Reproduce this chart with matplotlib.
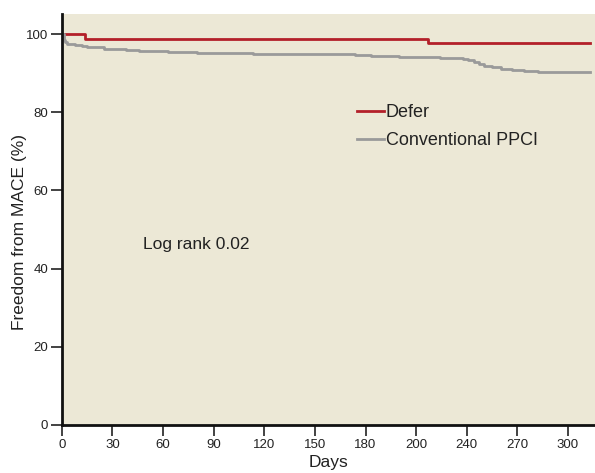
import matplotlib
matplotlib.use("Agg")
import matplotlib.pyplot as plt

# Kaplan-Meier style step data
defer_days = [0, 14, 217, 313]
defer_pct = [100.0, 98.8, 97.7, 97.7]

ppci_days = [0, 1, 2, 3, 5, 8, 12, 15, 20, 25, 31, 38, 46, 55, 63, 71, 80,
             90, 101, 113, 127, 141, 153, 165, 174, 183, 192, 200, 212, 224,
             231, 238, 241, 244, 247, 250, 255, 260, 264, 267, 274, 282, 313]
ppci_pct = [100.0, 98.6, 98.0, 97.6, 97.4, 97.2, 97.0, 96.8, 96.6, 96.3,
            96.1, 95.9, 95.8, 95.6, 95.4, 95.3, 95.25, 95.2, 95.1, 95.0,
            95.0, 95.0, 94.95, 94.9, 94.7, 94.5, 94.35, 94.2, 94.1, 94.0,
            93.9, 93.7, 93.3, 92.9, 92.3, 91.8, 91.5, 91.2, 91.0, 90.8,
            90.5, 90.2, 90.2]

xticks = [0, 30, 60, 90, 120, 150, 180, 210, 240, 270, 300]
xtick_labels = ["0", "30", "60", "90", "120", "150", "180", "200", "240", "270", "300"]
yticks = [0, 20, 40, 60, 80, 100]

RED = "#b3202a"
GREY = "#9a9a9a"
BG = "#ece8d6"
INK = "#222222"

plt.rcParams["font.family"] = ["Liberation Sans", "DejaVu Sans"]

fig = plt.figure(figsize=(5.95, 4.73), dpi=100)
ax = fig.add_axes([0.104, 0.1015, 0.896, 0.8685])
ax.set_facecolor(BG)

ax.step(defer_days, defer_pct, where="post", color=RED, lw=2, label="Defer")
ax.step(ppci_days, ppci_pct, where="post", color=GREY, lw=2,
        label="Conventional PPCI")

ax.set_xlim(0, 316)
ax.set_ylim(0, 105.1)
ax.set_xticks(xticks)
ax.set_xticklabels(xtick_labels, fontsize=9.5, color=INK)
ax.set_yticks(yticks)
ax.set_yticklabels([str(v) for v in yticks], fontsize=9.5, color=INK)
ax.tick_params(length=8, width=1.2, color=INK, pad=2)

for side in ["top", "right"]:
    ax.spines[side].set_visible(False)
for side in ["left", "bottom"]:
    ax.spines[side].set_linewidth(2)
    ax.spines[side].set_color("#111111")

ax.set_xlabel("Days", fontsize=12.5, color=INK, labelpad=3)
ax.set_ylabel("Freedom from MACE (%)", fontsize=12.5, color=INK)
ax.yaxis.set_label_coords(-0.065, 0.47)

ax.text(48, 46.3, "Log rank 0.02", fontsize=12.5, color=INK,
        ha="left", va="center")

leg = ax.legend(loc="upper left", bbox_to_anchor=(0.523, 0.82), frameon=False,
                handlelength=1.5, handletextpad=0.1, labelspacing=0.6,
                fontsize=13)
for t in leg.get_texts():
    t.set_color(INK)

fig.savefig("out.png", dpi=100, facecolor="white")
